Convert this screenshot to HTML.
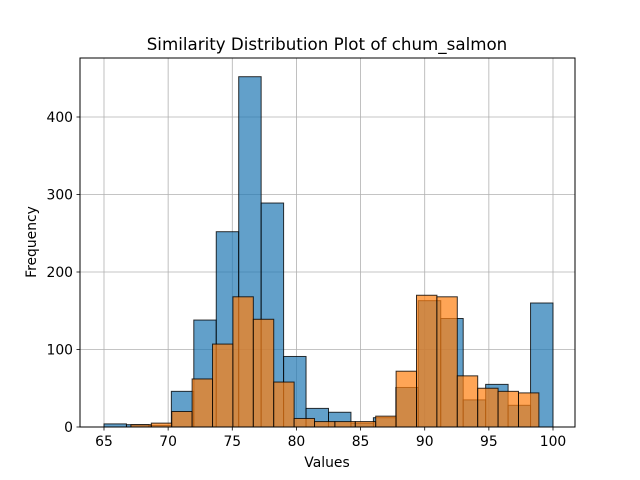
<!DOCTYPE html>
<html><head><meta charset="utf-8"><style>
body{margin:0;background:#fff;}
svg{display:block;font-family:"DejaVu Sans","Liberation Sans",sans-serif;}
</style></head><body>
<svg id="chart" width="640" height="480" viewBox="0 0 640 480" xmlns="http://www.w3.org/2000/svg">
<rect width="640" height="480" fill="#fff"/>
<g id="grid"></g>
<g id="bars"></g>
<rect x="80" y="58" width="495" height="369" fill="none" stroke="#000" stroke-width="1"/>
<g id="ticks"></g>
<text x="327" y="50" text-anchor="middle" font-size="16.7">Similarity Distribution Plot of chum_salmon</text>
<text x="327" y="467" text-anchor="middle" font-size="13.9">Values</text>
<text x="36" y="242" text-anchor="middle" font-size="13.9" transform="rotate(-90 36 242)">Frequency</text>
</svg>
<script>
const blueStart = 65, blueEnd = 100;
const blueCounts = [4,3,2,46,138,252,452,289,91,24,19,5,12,51,163,140,35,55,28,160];
const orangeStart = 67.1, orangeEnd = 98.9;
const orangeCounts = [3,5,20,62,107,168,139,58,11,7,7,7,14,72,170,168,66,50,46,44];
const xTicks = [65,70,75,80,85,90,95,100];
const yTicks = [0,100,200,300,400];

const NS = "http://www.w3.org/2000/svg";
const X = v => 104 + (v - 65) * (553 - 104) / 35;
const Y = v => 427 - v * 0.775;
const grid = document.getElementById('grid');
const bars = document.getElementById('bars');
const ticks = document.getElementById('ticks');
function mk(tag, attrs, parent){const e=document.createElementNS(NS,tag);for(const k in attrs)e.setAttribute(k,attrs[k]);parent.appendChild(e);return e;}

xTicks.forEach(t=>{
  const l = mk('line',{x1:X(t),x2:X(t),y1:58,y2:427,stroke:'#b0b0b0','stroke-width':0.8},grid);
  
  
  const tk = mk('line',{x1:X(t),x2:X(t),y1:427,y2:430.5,stroke:'#000','stroke-width':0.8},ticks);
  
  
  const tx = mk('text',{x:X(t),y:446,'text-anchor':'middle','font-size':13.9},ticks);
  tx.textContent = t;
  
  
});
yTicks.forEach(t=>{
  const l = mk('line',{x1:80,x2:575,y1:Y(t),y2:Y(t),stroke:'#b0b0b0','stroke-width':0.8},grid);
  
  
  const tk = mk('line',{x1:76.5,x2:80,y1:Y(t),y2:Y(t),stroke:'#000','stroke-width':0.8},ticks);
  
  
  const tx = mk('text',{x:73,y:Y(t)+5,'text-anchor':'end','font-size':13.9},ticks);
  tx.textContent = t;
  
  
});
function drawHist(counts, start, end, color, name){
  const w = (end - start) / counts.length;
  counts.forEach((c,i)=>{
    const x0 = X(start + i*w), x1 = X(start + (i+1)*w);
    const r = mk('rect',{x:x0,y:Y(c),width:x1-x0,height:Y(0)-Y(c),fill:color,'fill-opacity':0.7,stroke:'#000','stroke-opacity':0.8,'stroke-width':1},bars);
    
    
  });
}
drawHist(blueCounts, blueStart, blueEnd, '#1f77b4', 'blue-bar');
drawHist(orangeCounts, orangeStart, orangeEnd, '#ff7f0e', 'orange-bar');
</script>
</body></html>
